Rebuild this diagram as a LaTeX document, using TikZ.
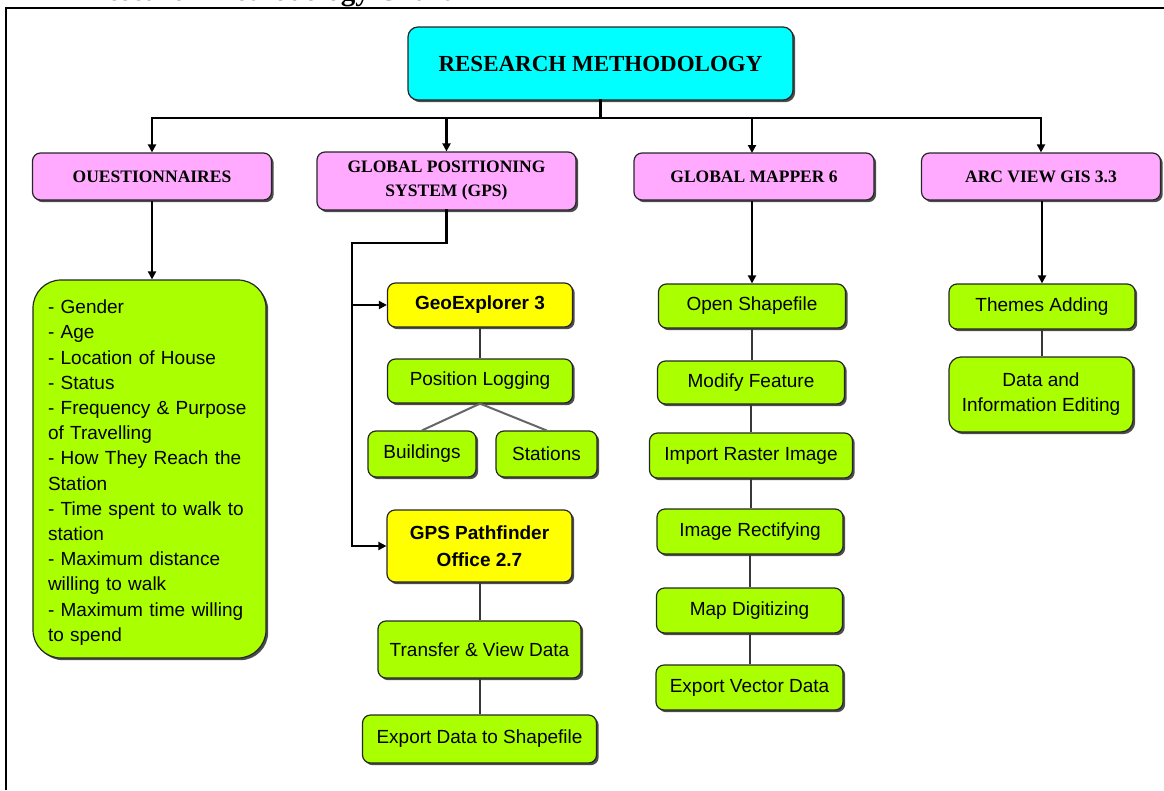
\documentclass[tikz,border=0pt]{standalone}
\usepackage{fontspec}
\setmainfont{Liberation Serif}
\setsansfont{Liberation Sans}
\usetikzlibrary{arrows.meta,shadows}
\definecolor{cyanc}{HTML}{00FFFF}
\definecolor{pinkc}{HTML}{FFAAFF}
\definecolor{greenc}{HTML}{AAFF00}
\definecolor{yellowc}{HTML}{FFFF00}
\tikzset{
  sz/.style 2 args={minimum width=#1pt,minimum height=#2pt},
  base/.style={draw=black!85, line width=1.2pt, rounded corners=8pt, inner sep=0pt, align=center,
    drop shadow={shadow xshift=2.2pt,shadow yshift=-2.2pt,fill=black!70,opacity=1}},
  rootbox/.style={base, fill=cyanc, rounded corners=10pt, font=\rmfamily\bfseries\fontsize{23}{26}\selectfont},
  pinkbox/.style={base, fill=pinkc, font=\rmfamily\bfseries\fontsize{17.5}{24}\selectfont},
  greenbox/.style={base, fill=greenc, font=\sffamily\fontsize{19}{25}\selectfont},
  yellowbox/.style={base, fill=yellowc, font=\sffamily\bfseries\fontsize{19}{27}\selectfont},
  listtext/.style={inner sep=0pt, text width=203pt, align=left, font=\sffamily\fontsize{19}{25.2}\selectfont},
  conn/.style={line width=2.5pt, black, line cap=rect, line join=miter},
  arr/.style={line width=2.5pt, black, -{Triangle[length=8pt,width=8pt]}},
  link/.style={line width=2pt, black!78},
  glink/.style={line width=2pt, black!60},
}
\begin{document}
\begin{tikzpicture}[x=1pt,y=-1pt]
\useasboundingbox (0,0) rectangle (1164,790);
\begin{scope}
  \clip (0,0) rectangle (1164,7);
  \node[anchor=base west, inner sep=0pt, font=\rmfamily\bfseries\fontsize{29}{32}\selectfont] (title) at (86,0) {Research Methodology Chart};
\end{scope}
\draw[line width=2.5pt, line join=miter] (6,790) -- (6,8) -- (1164,8);

% top level
\node[rootbox, sz={385}{73}] (root) at (600.5,63.5) {RESEARCH METHODOLOGY};
\coordinate (busy) at (0,118);
\node[pinkbox, sz={239}{47}] (q) at (152,176.5) {OUESTIONNAIRES};
\node[pinkbox, sz={259}{58}] (gps) at (446.5,181) {GLOBAL POSITIONING\\SYSTEM (GPS)};
\node[pinkbox, sz={240}{47}] (gm) at (754,176.5) {GLOBAL MAPPER 6};
\node[pinkbox, sz={239}{47}] (arc) at (1041,176.5) {ARC VIEW GIS 3.3};

\draw[conn] (root.south) -- (root.south |- busy);
\draw[conn] (q.north |- busy) -- (arc.north |- busy);
\draw[arr] (q.north |- busy) -- (q.north);
\draw[arr] (gps.north |- busy) -- (gps.north);
\draw[arr] (752,118) -- (752,153);
\draw[arr] (arc.north |- busy) -- (arc.north);

% questionnaires
\node[greenbox, rounded corners=28pt, sz={233}{378}] (qlist) at (149.5,469) {};
\node[listtext] (qtext) at (149.5,472.5) {- Gender\\- Age\\- Location of House\\- Status\\- Frequency \& Purpose\\of Travelling\\- How They Reach the\\Station\\- Time spent to walk to\\station\\- Maximum distance\\willing to walk\\- Maximum time willing\\to spend};
\draw[arr] (q.south) -- (q.south |- qlist.north);

% GPS column
\node[yellowbox, sz={185}{44}] (geo) at (480,305) {GeoExplorer 3};
\node[greenbox, sz={185}{44}] (poslog) at (480,381) {Position Logging};
\node[greenbox, sz={108}{46}] (build) at (422,454) {Buildings};
\node[greenbox, sz={101}{46}] (stat) at (546.5,454) {Stations};
\node[yellowbox, sz={185}{72}] (pf) at (479.5,546) {GPS Pathfinder\\Office 2.7};
\node[greenbox, sz={203}{57}] (tv) at (479.5,649.5) {Transfer \& View Data};
\node[greenbox, sz={234}{48}] (exp) at (479.5,739) {Export Data to Shapefile};

\coordinate (gpsbend) at (352,243);
\draw[conn] (gps.south) |- (gpsbend) -- (gpsbend |- pf.west);
\draw[arr] (gpsbend |- geo.west) -- (geo.west);
\draw[arr] (gpsbend |- pf.west) -- (pf.west);
\draw[link] (geo.south) -- (poslog.north);
\draw[glink] (poslog.south) -- (build.north);
\draw[glink] (poslog.south) -- (stat.north);
\draw[link] (pf.south) -- (tv.north);
\draw[link] (tv.south) -- (exp.north);

% Global Mapper column
\node[greenbox, sz={187}{44}] (os) at (752,306) {Open Shapefile};
\node[greenbox, sz={187}{43}] (mf) at (751,382.5) {Modify Feature};
\node[greenbox, sz={203}{45}] (ir) at (751,455.5) {Import Raster Image};
\node[greenbox, sz={186}{45}] (rect) at (750,531.5) {Image Rectifying};
\node[greenbox, sz={186}{45}] (md) at (749.5,610.5) {Map Digitizing};
\node[greenbox, sz={187}{45}] (ev) at (749.5,687.5) {Export Vector Data};
\draw[arr] (os.north |- gm.south) -- (os.north);
\draw[link] (os.south) -- (os.south |- mf.north);
\draw[link] (mf.south) -- (ir.north);
\draw[link] (ir.south) -- (ir.south |- rect.north);
\draw[link] (rect.south) -- (rect.south |- md.north);
\draw[link] (md.south) -- (ev.north);

% Arc View column
\node[greenbox, sz={186}{45}] (th) at (1042,306.5) {Themes Adding};
\node[greenbox, rounded corners=12pt, sz={184}{75}] (die) at (1041,394.5) {Data and\\Information Editing};
\draw[arr] (th.north |- arc.south) -- (th.north);
\draw[link] (th.south) -- (th.south |- die.north);
\end{tikzpicture}
\end{document}
